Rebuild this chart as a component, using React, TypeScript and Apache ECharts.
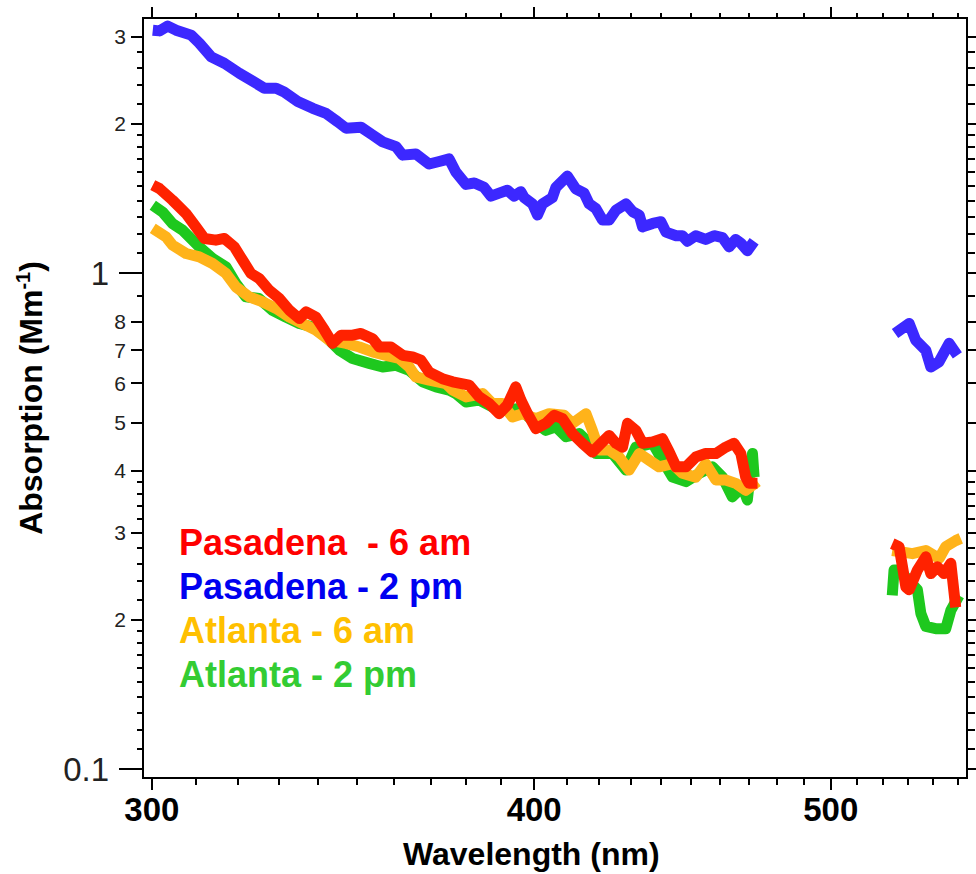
import React, { useEffect, useRef } from "react";
import * as echarts from "echarts";

// ---- Data (wavelength nm, absorption Mm^-1) ----
const pasadena6amUV: [number, number][] = [
  [300.2, 1.505], [301.7, 1.482], [304.7, 1.403], [307.8, 1.319], [310.1, 1.24], [312.1, 1.175],
  [314.8, 1.166], [316.8, 1.175], [319.2, 1.13], [321.2, 1.062], [323.2, 0.999], [325.2, 0.976],
  [327.7, 0.924], [330.2, 0.889], [332.7, 0.842], [335.2, 0.81], [336.9, 0.836], [339.4, 0.816],
  [341.6, 0.768], [343.7, 0.722], [345.9, 0.75], [348.9, 0.75], [351.1, 0.756], [354.2, 0.738],
  [356.0, 0.71], [359.1, 0.71], [362.3, 0.683], [365.0, 0.678], [367.3, 0.668], [369.6, 0.632],
  [373.3, 0.613], [376.2, 0.604], [380.9, 0.595], [383.8, 0.563], [386.7, 0.546], [389.6, 0.521],
  [392.0, 0.542], [394.5, 0.59], [396.0, 0.555], [398.0, 0.521], [400.5, 0.486], [403.5, 0.498],
  [406.1, 0.517], [408.6, 0.509], [411.7, 0.475], [414.8, 0.454], [417.9, 0.436], [421.1, 0.457],
  [423.2, 0.471], [425.4, 0.454], [427.5, 0.446], [429.1, 0.498], [431.8, 0.482], [434.0, 0.454],
  [437.3, 0.457], [440.5, 0.464], [442.8, 0.436], [445.1, 0.407], [448.4, 0.407], [451.7, 0.426],
  [455.1, 0.433], [458.6, 0.433], [462.0, 0.446], [464.9, 0.454], [467.3, 0.433], [469.0, 0.388],
  [470.2, 0.377], [473.2, 0.377],
];
const pasadena6amVis: [number, number][] = [
  [523.7, 0.285], [526.4, 0.281], [529.1, 0.233], [530.4, 0.23], [533.7, 0.252], [537.1, 0.268],
  [539.1, 0.248], [541.8, 0.256], [544.5, 0.248], [547.3, 0.26], [549.3, 0.212],
];

const pasadena2pmUV: [number, number][] = [
  [300.2, 3.09], [301.7, 3.08], [303.6, 3.15], [305.5, 3.09], [309.0, 3.02], [310.9, 2.91],
  [313.7, 2.73], [316.8, 2.65], [320.4, 2.53], [323.6, 2.44], [326.5, 2.36], [329.4, 2.36],
  [331.4, 2.32], [334.8, 2.22], [338.6, 2.15], [342.0, 2.1], [345.0, 2.02], [347.2, 1.96],
  [351.1, 1.97], [354.2, 1.9], [356.9, 1.84], [360.5, 1.8], [362.3, 1.73], [365.9, 1.74],
  [369.6, 1.66], [372.4, 1.68], [375.2, 1.7], [377.1, 1.6], [380.0, 1.51], [382.4, 1.52],
  [385.2, 1.49], [387.2, 1.43], [389.6, 1.45], [392.0, 1.47], [394.0, 1.43], [396.0, 1.46],
  [397.0, 1.42], [399.5, 1.38], [401.0, 1.31], [402.5, 1.38], [405.5, 1.42], [406.6, 1.49],
  [410.1, 1.57], [412.7, 1.48], [415.3, 1.45], [416.9, 1.38], [419.0, 1.35], [421.1, 1.28],
  [423.2, 1.28], [425.4, 1.34], [428.6, 1.38], [430.8, 1.33], [432.9, 1.31], [434.0, 1.24],
  [437.3, 1.26], [440.0, 1.27], [441.7, 1.21], [445.1, 1.19], [447.2, 1.19], [448.9, 1.16],
  [451.7, 1.19], [455.1, 1.17], [458.0, 1.19], [460.9, 1.18], [463.2, 1.13], [465.5, 1.17],
  [467.3, 1.15], [469.6, 1.11], [472.0, 1.16],
];
const pasadena2pmVis: [number, number][] = [
  [524.8, 0.756], [530.4, 0.792], [533.0, 0.733], [537.1, 0.699], [539.1, 0.647], [542.5, 0.663],
  [546.6, 0.722], [550.0, 0.683],
];

const atlanta6amUV: [number, number][] = [
  [300.2, 1.231], [303.2, 1.184], [304.7, 1.139], [307.8, 1.096], [310.9, 1.079], [314.0, 1.046],
  [317.2, 0.999], [319.6, 0.938], [322.8, 0.896], [326.1, 0.875], [329.4, 0.849], [332.7, 0.816],
  [336.0, 0.792], [339.4, 0.768], [342.8, 0.733], [347.2, 0.722], [350.7, 0.71], [354.2, 0.694],
  [357.8, 0.683], [361.4, 0.673], [364.1, 0.647], [365.9, 0.618], [369.6, 0.609], [374.3, 0.599],
  [376.2, 0.581], [380.0, 0.563], [384.8, 0.572], [387.6, 0.546], [390.5, 0.546], [393.5, 0.513],
  [396.5, 0.521], [400.5, 0.509], [404.5, 0.521], [409.1, 0.517], [411.7, 0.498], [415.9, 0.521],
  [417.9, 0.482], [420.0, 0.44], [423.2, 0.44], [426.4, 0.426], [429.6, 0.401], [432.9, 0.433],
  [436.1, 0.42], [439.4, 0.407], [443.9, 0.413], [447.2, 0.395], [451.7, 0.388], [455.1, 0.413],
  [458.6, 0.383], [462.0, 0.383], [465.5, 0.377], [469.0, 0.365], [473.2, 0.38],
];
const atlanta6amVis: [number, number][] = [
  [523.7, 0.276], [531.7, 0.272], [537.1, 0.276], [542.5, 0.266], [545.2, 0.281], [549.3, 0.289],
  [551.4, 0.292],
];

const atlanta2pmUV: [number, number][] = [
  [300.2, 1.371], [302.4, 1.329], [304.7, 1.259], [307.0, 1.221], [310.9, 1.13], [314.0, 1.071],
  [317.2, 1.03], [319.6, 0.953], [322.0, 0.896], [325.2, 0.889], [328.5, 0.842], [331.8, 0.816],
  [335.2, 0.792], [338.6, 0.779], [342.0, 0.744], [345.5, 0.699], [348.9, 0.673], [353.3, 0.658],
  [356.9, 0.647], [360.5, 0.652], [364.1, 0.637], [367.8, 0.604], [371.5, 0.59], [375.2, 0.581],
  [377.1, 0.572], [380.0, 0.55], [383.8, 0.555], [387.6, 0.538], [391.6, 0.529], [395.5, 0.534],
  [399.5, 0.505], [403.5, 0.482], [406.6, 0.49], [409.7, 0.468], [413.8, 0.475], [415.9, 0.461],
  [419.0, 0.433], [424.3, 0.433], [428.6, 0.401], [431.8, 0.446], [437.3, 0.454], [440.5, 0.42],
  [443.9, 0.388], [448.4, 0.38], [452.9, 0.395], [457.4, 0.407], [460.9, 0.388], [464.3, 0.354],
  [467.9, 0.371], [469.6, 0.349], [471.4, 0.433], [472.0, 0.388],
];
const atlanta2pmVis: [number, number][] = [
  [523.7, 0.224], [524.4, 0.252], [526.4, 0.252], [533.7, 0.23], [535.1, 0.206], [537.1, 0.194],
  [541.1, 0.192], [545.2, 0.192], [547.3, 0.209], [550.7, 0.224],
];

// ---- Axes: tick values and labels ----
const xRange = [298, 554];
const yRange = [0.096, 3.27];
const xMajorTicks = [300, 400, 500];
const xMinorTicks = [310, 320, 330, 340, 350, 360, 370, 380, 390, 410, 420, 430, 440, 450, 460, 470, 480, 490, 510, 520, 530, 540, 550];
const yDecadeTicks = [0.1, 1];
const yLabeledTicks = [0.2, 0.3, 0.4, 0.5, 0.6, 0.7, 0.8, 2, 3];
const yMinorTicks = [
  0.11, 0.12, 0.13, 0.14, 0.15, 0.16, 0.17, 0.18, 0.19,
  0.22, 0.24, 0.26, 0.28, 0.32, 0.34, 0.36, 0.38, 0.9,
  1.1, 1.2, 1.3, 1.4, 1.5, 1.6, 1.7, 1.8, 1.9, 2.2, 2.4, 2.6, 2.8,
];

const legendItems = [
  { text: "Pasadena  - 6 am", color: "#ff0000" },
  { text: "Pasadena - 2 pm", color: "#0000f0" },
  { text: "Atlanta - 6 am", color: "#ffc000" },
  { text: "Atlanta - 2 pm", color: "#33cc33" },
];

const GAP_WAVELENGTH = 500;

const FONT = '"Liberation Sans", Arial, Helvetica, sans-serif';

function joinSegments(a: [number, number][], b: [number, number][]) {
  return [...a, [GAP_WAVELENGTH, null], ...b];
}

export default function App() {
  const ref = useRef<HTMLDivElement>(null);

  useEffect(() => {
    if (!ref.current) return;
    const chart = echarts.init(ref.current, undefined, { renderer: "svg" });

    const axisLine = { show: true, onZero: false, lineStyle: { color: "#000", width: 2 } };
    const tickStyle = { color: "#000", width: 2 };

    const xBase = (position: string, ticks: number[], length: number, label?: any) => ({
      type: "log",
      logBase: 10,
      min: xRange[0],
      max: xRange[1],
      position,
      gridIndex: 0,
      splitLine: { show: false },
      minorTick: { show: false },
      axisLine,
      axisTick: { show: true, inside: false, length, lineStyle: tickStyle, customValues: ticks },
      axisLabel: label ?? { show: false },
    });

    const yBase = (position: string, ticks: number[], length: number, label?: any, extra?: any) => ({
      type: "log",
      logBase: 10,
      min: yRange[0],
      max: yRange[1],
      position,
      gridIndex: 0,
      splitLine: { show: false },
      minorTick: { show: false },
      axisLine,
      axisTick: { show: true, inside: false, length, lineStyle: tickStyle, customValues: ticks },
      axisLabel: label ?? { show: false },
      ...(extra || {}),
    });

    const lineSeries = (name: string, color: string, data: any[]) => ({
      name,
      type: "line",
      xAxisIndex: 0,
      yAxisIndex: 0,
      data,
      showSymbol: false,
      symbol: "none",
      connectNulls: false,
      lineStyle: { color, width: 11, cap: "butt", join: "round" },
      emphasis: { disabled: true },
    });

    const option: any = {
      animation: false,
      backgroundColor: "#ffffff",
      grid: { left: 143, right: 9, top: 18, bottom: 96, containLabel: false },
      xAxis: [
        xBase("bottom", xMajorTicks, 12, {
          show: true,
          customValues: xMajorTicks,
          margin: 15,
          fontSize: 33,
          fontWeight: "bold",
          fontFamily: FONT,
          color: "#000",
          formatter: (v: number) => String(Math.round(v)),
        }),
        xBase("bottom", xMinorTicks, 7),
        xBase("top", xMajorTicks, 11),
        xBase("top", xMinorTicks, 5),
      ],
      yAxis: [
        yBase(
          "left",
          yDecadeTicks,
          24,
          {
            show: true,
            customValues: yDecadeTicks,
            margin: 34,
            fontSize: 33,
            fontFamily: FONT,
            color: "#222",
            formatter: (v: number) => (v < 0.5 ? "0.1" : "1"),
          },
          {
            name: "{a|Absorption (Mm}{s|-1}{a|)}",
            nameLocation: "middle",
            nameRotate: 90,
            nameGap: 96,
            nameTextStyle: {
              rich: {
                a: { fontSize: 32, fontWeight: "bold", fontFamily: FONT, color: "#000", lineHeight: 34, verticalAlign: "bottom" },
                s: { fontSize: 20, fontWeight: "bold", fontFamily: FONT, color: "#000", lineHeight: 34, verticalAlign: "top", padding: [0, 0, 12, 0] },
              },
            },
          }
        ),
        yBase("left", yLabeledTicks, 12, {
          show: true,
          customValues: yLabeledTicks,
          margin: 17,
          fontSize: 21,
          fontFamily: FONT,
          color: "#222",
          formatter: (v: number) => (v < 1 ? String(Math.round(v * 10)) : String(Math.round(v))),
        }),
        yBase("left", yMinorTicks, 6),
        yBase("right", [...yDecadeTicks, ...yLabeledTicks], 12),
        yBase("right", yMinorTicks, 8),
      ],
      series: [
        lineSeries("Atlanta - 2 pm", "#1ec81e", joinSegments(atlanta2pmUV, atlanta2pmVis)),
        lineSeries("Atlanta - 6 am", "#ffb31a", joinSegments(atlanta6amUV, atlanta6amVis)),
        lineSeries("Pasadena - 6 am", "#ff2200", joinSegments(pasadena6amUV, pasadena6amVis)),
        lineSeries("Pasadena - 2 pm", "#3c28ff", joinSegments(pasadena2pmUV, pasadena2pmVis)),
      ],
      graphic: [
        {
          type: "text",
          left: 403,
          top: 838,
          style: { text: "Wavelength (nm)", font: `bold 32px ${FONT}`, fill: "#000" },
        },
        ...legendItems.map((it, i) => ({
          type: "text",
          left: 179,
          top: 524 + i * 44.3,
          z: 100,
          style: { text: it.text, font: `bold 36px ${FONT}`, fill: it.color },
        })),
      ],
    };

    chart.setOption(option);
    return () => chart.dispose();
  }, []);

  return (
    <div
      ref={ref}
      style={{ position: "fixed", left: 0, top: 0, width: 976, height: 874, background: "#fff" }}
    />
  );
}
